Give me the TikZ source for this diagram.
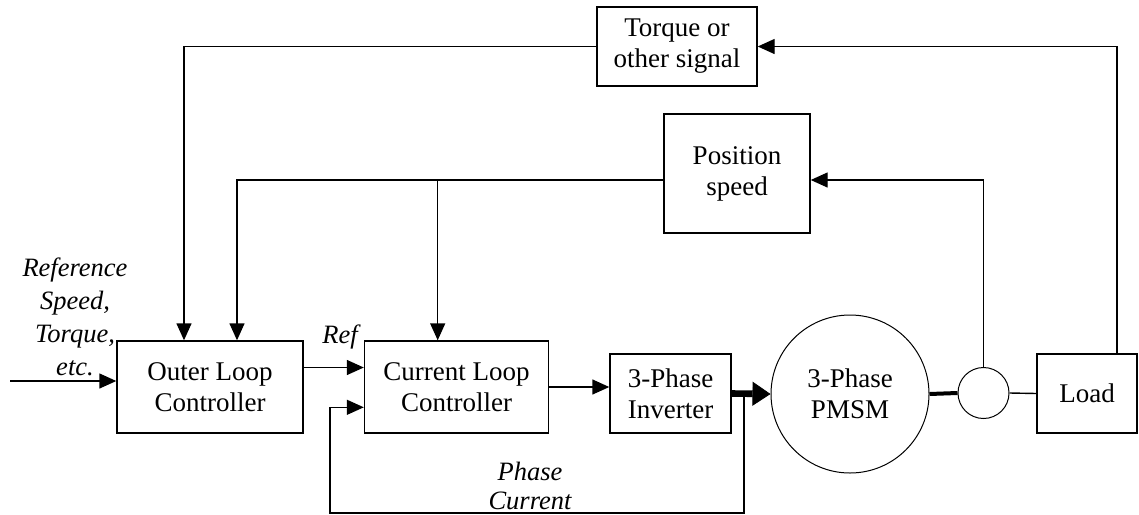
\documentclass[tikz,border=0pt]{standalone}
\usepackage{fontspec}
\setmainfont{Liberation Serif}
\usetikzlibrary{positioning,arrows.meta}

\begin{document}
\begin{tikzpicture}[
    x=0.5pt, y=-0.5pt,
    >={Triangle[length=8.5pt,width=7.5pt]},
    line width=0.7pt,
    block/.style={draw, align=center, inner sep=0pt, font=\fontsize{13.5}{15.5}\selectfont},
    disc/.style={circle, draw, line width=0.5pt, align=center, inner sep=0pt, font=\fontsize{13.5}{15.5}\selectfont},
    sig/.style={font=\fontsize{13.25}{16.5}\selectfont\itshape, align=center},
    bigarrow/.style={line width=3.3pt, -{Triangle[length=9pt,width=12pt,line width=0.4pt]}}
]
\useasboundingbox (0,0) rectangle (1139,514);

% === Forward path ===
\node[block, minimum width=93pt, minimum height=46pt] (outer) at (210,387) {Outer Loop\\Controller};
\node[block, minimum width=92pt, minimum height=46pt] (current) at (456.5,387) {Current Loop\\Controller};
\node[block, minimum width=60.5pt, minimum height=39.5pt] (inv) at (670.5,393.5) {3-Phase\\Inverter};
\node[disc, minimum size=79pt] (pmsm) at (850,394) {3-Phase\\PMSM};
\node[disc, minimum size=25.5pt] (sensor) at (983.5,393) {};
\node[block, minimum width=50pt, minimum height=39.5pt] (load) at (1087,393.5) {Load};

% === Feedback blocks ===
\node[block, minimum width=80pt, minimum height=39.5pt] (torque) at (677,46.5) {Torque or\\other signal};
\node[block, minimum width=73pt, minimum height=59.5pt] (pos) at (737,173.5) {Position\\speed};

% === Labels ===
\node[sig] (reflbl) at (75,317) {Reference\\Speed,\\Torque,\\etc.};
\node[sig] (refname) at (340,337) {Ref};
\node[sig, font=\fontsize{13.25}{14.5}\selectfont\itshape] (phlbl) at (530,485.5) {Phase\\Current};

% === Helper coordinates ===
\coordinate (in) at (10,381);
\coordinate (refy) at (0,367.5);
\coordinate (tap) at (744,393.5);
\coordinate (fbbot) at (0,513);
\coordinate (fbin) at (330,407.3);
\coordinate (posfb) at (0,180);
\coordinate (loadtap) at (1117,354);
\coordinate (outA) at (184,0);
\coordinate (outB) at (237,0);
\coordinate (curin) at (437.7,0);

% === Forward connectors ===
\draw[->] (in) -- (in -| outer.west);
\draw[->] (outer.east |- refy) -- (current.west |- refy);
\draw[->] (current.east) -- (current.east -| inv.west);
\draw[bigarrow] (inv.east) -- (pmsm.west);
\draw[line width=2pt] (pmsm.east) -- (sensor.west);
\draw (sensor.east) -- (load.west);

% === Phase current loop ===
\draw[->] (tap) |- (fbin |- fbbot) -- (fbin) -- (fbin -| current.west);

% === Position / speed loop ===
\draw[->] (sensor.north) |- (pos.east |- posfb);
\draw[->] (pos.west |- posfb) -| (outB |- outer.north);
\draw[->] (curin |- posfb) -- (curin |- current.north);

% === Torque loop ===
\draw[->] (loadtap) |- (torque.east);
\draw[->] (torque.west) -| (outA |- outer.north);
\end{tikzpicture}
\end{document}
